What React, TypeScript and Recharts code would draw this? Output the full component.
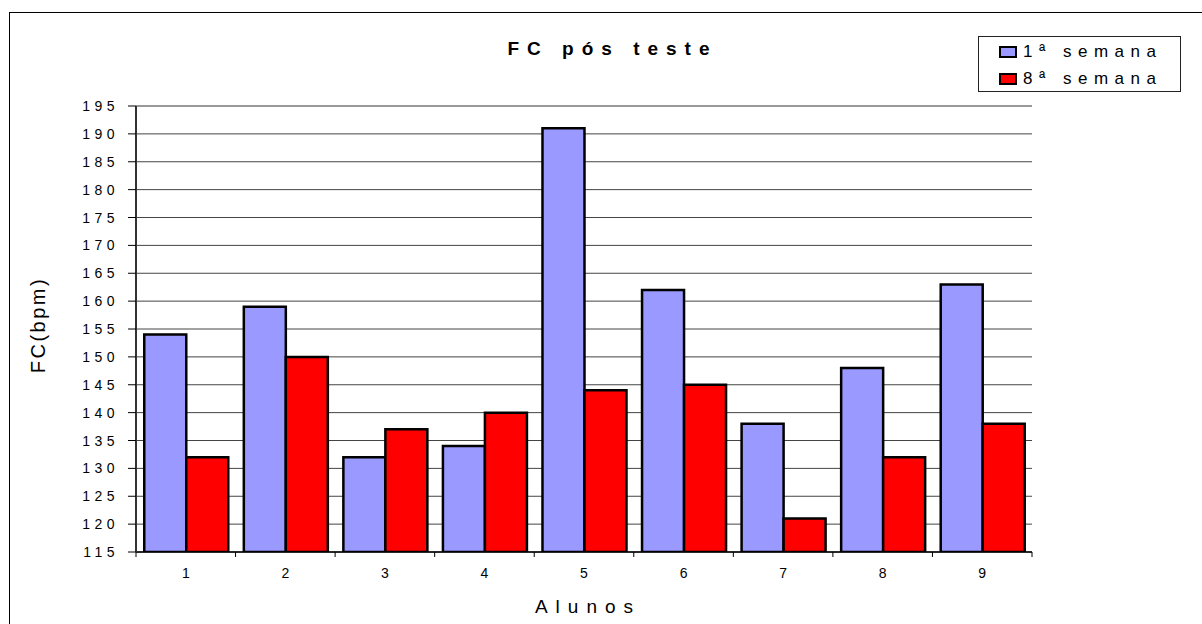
import React from 'react';
import {
  BarChart,
  Bar,
  XAxis,
  YAxis,
  CartesianGrid,
  ReferenceLine
} from 'recharts';

const alunos = ['1', '2', '3', '4', '5', '6', '7', '8', '9'];
const semana1 = [154, 159, 132, 134, 191, 162, 138, 148, 163];
const semana8 = [132, 150, 137, 140, 144, 145, 121, 132, 138];
const yTicks = [115, 120, 125, 130, 135, 140, 145, 150, 155, 160, 165, 170, 175, 180, 185, 190, 195];
const legendItems = [
  { label: '1ª semana', color: '#9999FF' },
  { label: '8ª semana', color: '#FF0000' }
];

const data = alunos.map((name, i) => ({ name, s1: semana1[i], s8: semana8[i] }));

const FONT = 'Arial, "Liberation Sans", sans-serif';
const BAND = (1032 - 136) / alunos.length;

const YTick = (props: any) => {
  const { x, y, payload } = props;
  return (
    <g>
      <line x1={x - 8} x2={x} y1={y} y2={y} stroke="#000" strokeWidth={1} />
      <text x={x - 17} y={y} dy={5} textAnchor="end" fontSize={14} letterSpacing={4.5} fill="#000" fontFamily={FONT}>
        {payload.value}
      </text>
    </g>
  );
};

const XTick = (props: any) => {
  const { x, y, payload, index } = props;
  const last = index === alunos.length - 1;
  return (
    <g>
      <line x1={x - BAND / 2} x2={x - BAND / 2} y1={y} y2={y + 5} stroke="#000" strokeWidth={1} />
      {last && <line x1={x + BAND / 2} x2={x + BAND / 2} y1={y} y2={y + 5} stroke="#000" strokeWidth={1} />}
      <text x={x} y={y + 26} textAnchor="middle" fontSize={14} fill="#000" fontFamily={FONT}>
        {payload.value}
      </text>
    </g>
  );
};

const LegendBox = () => (
  <div
    style={{
      position: 'absolute',
      left: 978,
      top: 36,
      width: 201,
      height: 54,
      border: '1px solid #222',
      background: '#fff',
      fontFamily: FONT,
      fontSize: 17,
      letterSpacing: 6.5,
      color: '#000'
    }}
  >
    {legendItems.map((it, i) => (
      <div key={i} style={{ display: 'flex', alignItems: 'center', height: 27, paddingLeft: 20, paddingTop: i === 0 ? 1 : 0 }}>
        <span
          style={{
            display: 'inline-block',
            width: 14,
            height: 8,
            border: '2px solid #000',
            background: it.color,
            marginRight: 6
          }}
        />
        <span style={{ lineHeight: '17px' }}>{it.label}</span>
      </div>
    ))}
  </div>
);

export default function App() {
  return (
    <div style={{ position: 'absolute', left: 0, top: 0, width: 1202, height: 624, overflow: 'hidden', background: '#fff' }}>
      <div
        style={{
          position: 'absolute',
          left: 9,
          top: 12,
          width: 1300,
          height: 800,
          border: '1.5px solid #000'
        }}
      />
      <div
        style={{
          position: 'absolute',
          left: 0,
          width: 1202,
          top: 39,
          textAlign: 'center',
          paddingLeft: 23,
          boxSizing: 'border-box',
          fontFamily: FONT,
          fontWeight: 'bold',
          fontSize: 19,
          letterSpacing: 8,
          lineHeight: '19px',
          color: '#000'
        }}
      >
        FC pós teste
      </div>
      <div
        style={{
          position: 'absolute',
          left: 0,
          width: 1168,
          top: 597,
          textAlign: 'center',
          paddingLeft: 8,
          boxSizing: 'border-box',
          fontFamily: FONT,
          fontSize: 19,
          letterSpacing: 8,
          lineHeight: '19px',
          color: '#000'
        }}
      >
        Alunos
      </div>
      <div
        style={{
          position: 'absolute',
          left: 38,
          top: 325,
          transform: 'translate(-50%, -50%) rotate(-90deg)',
          fontFamily: FONT,
          fontSize: 20,
          letterSpacing: 2.5,
          lineHeight: '20px',
          whiteSpace: 'nowrap',
          color: '#000'
        }}
      >
        FC(bpm)
      </div>
      <div style={{ position: 'absolute', left: 0, top: 0 }}>
        <BarChart
          width={1202}
          height={624}
          data={data}
          margin={{ top: 106, right: 170, bottom: 0, left: 0 }}
          barCategoryGap="8.3%"
          barGap={0}
        >
          <CartesianGrid yAxisId="l" horizontal vertical={false} stroke="#444" strokeWidth={1} />
          <XAxis
            dataKey="name"
            height={72}
            tickSize={0}
            tickMargin={0}
            tickLine={false}
            axisLine={{ stroke: '#000', strokeWidth: 1.5 }}
            tick={<XTick />}
            interval={0}
          />
          <YAxis
            yAxisId="l"
            width={136}
            domain={[115, 195]}
            ticks={yTicks}
            interval={0}
            tickSize={0}
            tickMargin={0}
            tickLine={false}
            axisLine={{ stroke: '#333', strokeWidth: 2 }}
            tick={<YTick />}
            allowDataOverflow
          />
          <YAxis
            yAxisId="r"
            orientation="right"
            width={0}
            domain={[115, 195]}
            tick={false}
            tickLine={false}
            axisLine={{ stroke: '#888', strokeWidth: 2 }}
          />
          <ReferenceLine yAxisId="l" y={195} stroke="#999" strokeWidth={2} />
          <Bar yAxisId="l" dataKey="s1" name="1ª semana" fill="#9999FF" stroke="#000" strokeWidth={2.5} isAnimationActive={false} />
          <Bar yAxisId="l" dataKey="s8" name="8ª semana" fill="#FF0000" stroke="#000" strokeWidth={2.5} isAnimationActive={false} />
        </BarChart>
      </div>
      <LegendBox />
    </div>
  );
}
